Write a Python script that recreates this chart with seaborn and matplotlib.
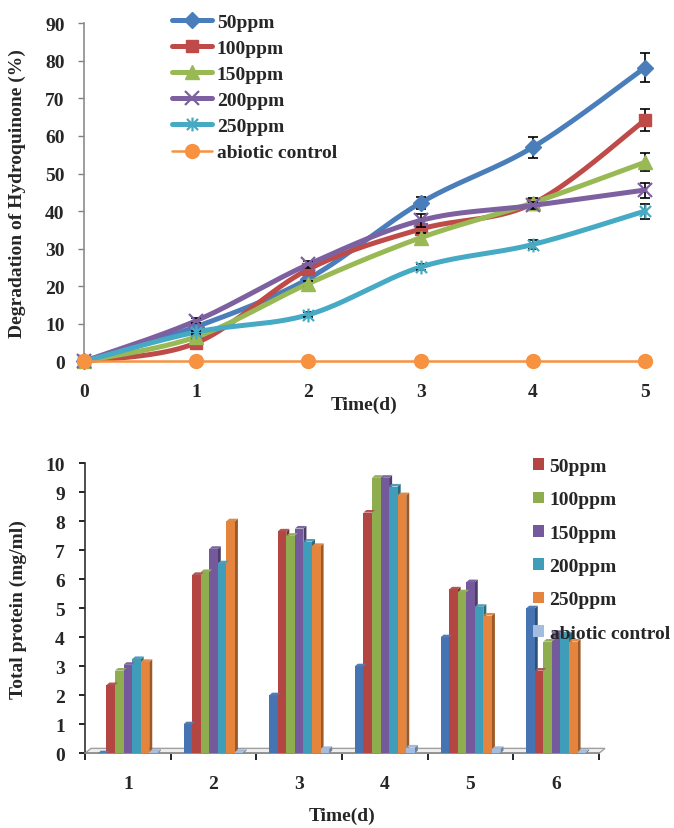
import numpy as np
import pandas as pd
import matplotlib
matplotlib.use("Agg")
import matplotlib.pyplot as plt
import seaborn as sns
from matplotlib.lines import Line2D
from matplotlib.patches import Polygon, Patch
from matplotlib.path import Path
from matplotlib.colors import to_rgb

# ---------------- data ----------------
days = [0, 1, 2, 3, 4, 5]
series = ["50ppm", "100ppm", "150ppm", "200ppm", "250ppm", "abiotic control"]

deg_50 = [0, 9.2, 22.0, 42.2, 57.0, 78.2]
deg_100 = [0, 4.9, 24.5, 35.2, 42.0, 64.2]
deg_150 = [0, 6.5, 20.7, 32.9, 42.2, 53.0]
deg_200 = [0, 10.8, 25.8, 37.5, 41.5, 45.6]
deg_250 = [0, 7.8, 12.4, 25.1, 31.1, 40.0]
deg_ctrl = [0, 0, 0, 0, 0, 0]

err_50 = [0, 0.6, 0.8, 1.6, 2.8, 3.8]
err_100 = [0, 0.5, 1.0, 1.2, 1.2, 3.0]
err_150 = [0, 0.5, 0.8, 1.2, 1.2, 2.4]
err_200 = [0, 0.6, 0.9, 1.8, 1.0, 2.0]
err_250 = [0, 0.4, 0.6, 0.8, 1.3, 2.0]
err_ctrl = [0, 0, 0, 0, 0, 0]

groups = ["1", "2", "3", "4", "5", "6"]
prot_time = [0.0, 1.0, 2.0, 3.0, 4.0, 5.0]
prot_50 = [2.35, 6.15, 7.65, 8.3, 5.65, 2.85]
prot_100 = [2.85, 6.25, 7.5, 9.5, 5.55, 3.85]
prot_150 = [3.05, 7.05, 7.75, 9.5, 5.9, 4.15]
prot_200 = [3.25, 6.55, 7.3, 9.2, 5.05, 4.1]
prot_250 = [3.15, 8.0, 7.15, 8.9, 4.75, 3.85]
prot_ctrl = [0.05, 0.05, 0.15, 0.2, 0.15, 0.05]

line_colors = ["#4A7EBB", "#BE4B48", "#98B954", "#7D60A0", "#46AAC5", "#F69240"]
bar_colors = ["#4674B3", "#B34542", "#8EAD4E", "#745A9C", "#3F9DBA", "#E5853D", "#A3BDE0"]

FS = 14

# ---------------- style ----------------
sns.set_style("ticks")
plt.rcParams["font.family"] = ["Liberation Serif", "DejaVu Serif"]
plt.rcParams["font.weight"] = "bold"
plt.rcParams["axes.labelweight"] = "bold"
plt.rcParams["font.size"] = FS

fig = plt.figure(figsize=(6.74, 8.29), dpi=100)
W, H = 674, 829


def fig_axes(left, top, right, bottom):
    return fig.add_axes([left / W, 1 - bottom / H, (right - left) / W, (bottom - top) / H])


def smooth_path(xs, ys, n=40):
    """Bezier smoothing through the points (Catmull-Rom style control points)."""
    pts = np.column_stack([xs, ys]).astype(float)
    P = np.vstack([pts[0], pts, pts[-1]])
    t = np.linspace(0, 1, n)[:, None]
    out = []
    for i in range(1, len(P) - 2):
        p0, p1, p2, p3 = P[i - 1], P[i], P[i + 1], P[i + 2]
        c1 = p1 + (p2 - p0) / 6
        c2 = p2 - (p3 - p1) / 6
        seg = (1 - t) ** 3 * p1 + 3 * (1 - t) ** 2 * t * c1 + 3 * (1 - t) * t ** 2 * c2 + t ** 3 * p2
        out.append(seg if i == 1 else seg[1:])
    return np.vstack(out)


# ---------------- top: degradation curves ----------------
ax1 = fig_axes(84, 24.3, 645, 362.3)

deg_values = [deg_50, deg_100, deg_150, deg_200, deg_250, deg_ctrl]
deg_errors = [err_50, err_100, err_150, err_200, err_250, err_ctrl]

star = Path([(-1, -1), (1, 1), (-1, 1), (1, -1), (0, -1.25), (0, 1.25)],
            [Path.MOVETO, Path.LINETO, Path.MOVETO, Path.LINETO, Path.MOVETO, Path.LINETO])
markers = ["D", "s", "^", "x", star, "o"]
msizes = [8.5, 9, 9.5, 10, 10, 10]
lwidths = [3.6, 3.6, 3.6, 3.6, 3.6, 1.8]

curves = []
for name, vals in zip(series, deg_values):
    sp = smooth_path(days, vals)
    curves.append(pd.DataFrame({"x": sp[:, 0], "y": sp[:, 1], "series": name}))
curve_df = pd.concat(curves, ignore_index=True)

for i, name in enumerate(series):
    sub = curve_df[curve_df["series"] == name]
    sns.lineplot(data=sub, x="x", y="y", sort=False, color=line_colors[i],
                 linewidth=lwidths[i], ax=ax1, clip_on=False, zorder=2 + i,
                 solid_capstyle="round")
    ax1.errorbar(days, deg_values[i], yerr=deg_errors[i], fmt="none",
                 ecolor="black", elinewidth=1.2, capsize=3.5, capthick=1.2,
                 zorder=2 + i, clip_on=False)
    ax1.plot(days, deg_values[i], linestyle="none", marker=markers[i], markersize=msizes[i],
             color=line_colors[i], markeredgecolor=line_colors[i],
             markeredgewidth=1.6 if i in (3, 4) else 1,
             clip_on=False, zorder=2.5 + i)

ax1.set_xlim(0, 5)
ax1.set_ylim(0, 90)
ax1.set_xticks(days)
ax1.set_yticks(np.arange(0, 91, 10))
ax1.tick_params(axis="x", length=0, pad=15.5, labelsize=FS)
ax1.tick_params(axis="y", length=4.5, width=1, color="#808080", pad=9.5, labelsize=FS, direction="out")
for lab in ax1.get_xticklabels() + ax1.get_yticklabels():
    lab.set_fontweight("bold")
sns.despine(ax=ax1)
ax1.spines["left"].set_color("#8C8C8C")
ax1.spines["left"].set_linewidth(1.2)
ax1.spines["bottom"].set_visible(False)
ax1.set_xlabel("Time(d)", fontsize=FS, fontweight="bold")
ax1.xaxis.set_label_coords(0.5, -0.103)
ax1.set_ylabel("Degradation of Hydroquinone (%)", fontsize=FS, fontweight="bold")
ax1.yaxis.set_label_coords(-0.103, 0.5)

handles1 = [Line2D([0], [0], color=line_colors[i], linewidth=lwidths[i], marker=markers[i],
                   markersize=msizes[i], markeredgewidth=1.6 if i in (3, 4) else 1)
            for i in range(6)]
fig.legend(handles1, series, loc="upper left", bbox_to_anchor=(172 / W, 1 - 14 / H),
           frameon=False, borderpad=0, borderaxespad=0, handlelength=2.05,
           handletextpad=0.25, labelspacing=0.44, prop={"weight": "bold", "size": FS})

# ---------------- bottom: total protein bars ----------------
ax2 = fig_axes(85, 464.3, 599, 754.3)

bar_series = ["day"] + series
bar_values = [prot_time, prot_50, prot_100, prot_150, prot_200, prot_250, prot_ctrl]
prot_df = pd.DataFrame({
    "group": np.tile(groups, len(bar_series)),
    "series": np.repeat(bar_series, len(groups)),
    "protein": np.concatenate(bar_values),
})

sns.barplot(data=prot_df, x="group", y="protein", hue="series", hue_order=bar_series,
            order=groups, palette=bar_colors, width=0.7, saturation=1, legend=False,
            edgecolor="none", linewidth=0, ax=ax2, zorder=3)

# depth faces for a 3-D column look
dx, dy = 0.035, 0.09
for p in list(ax2.patches):
    x0 = p.get_x()
    x1 = x0 + p.get_width()
    y0 = p.get_y()
    y1 = y0 + p.get_height()
    base = np.array(to_rgb(p.get_facecolor()))
    side = Polygon([(x1, y0), (x1 + dx, y0 + dy), (x1 + dx, y1 + dy), (x1, y1)],
                   closed=True, facecolor=base * 0.68, edgecolor="none", zorder=2.9)
    top = Polygon([(x0, y1), (x1, y1), (x1 + dx, y1 + dy), (x0 + dx, y1 + dy)],
                  closed=True, facecolor=np.clip(base * 0.85 + 0.1, 0, 1),
                  edgecolor="none", zorder=3.1)
    ax2.add_patch(side)
    ax2.add_patch(top)

floor = Polygon([(-0.5, 0), (5.5, 0), (5.57, 0.17), (-0.43, 0.17)], closed=True,
                facecolor="#EEEEEE", edgecolor="#A0A0A0", linewidth=1.0, zorder=1,
                clip_on=False)
ax2.add_patch(floor)

ax2.set_xlim(-0.5, 5.5)
ax2.set_ylim(0, 10)
ax2.set_yticks(np.arange(0, 11, 1))
ax2.set_xticks(range(len(groups)))
ax2.set_xticklabels(groups)
ax2.set_xticks(np.arange(-0.5, 6, 1), minor=True)
ax2.tick_params(axis="x", which="major", length=0, pad=15.5, labelsize=FS)
ax2.tick_params(axis="x", which="minor", length=5, width=1.2, color="black", direction="out")
ax2.tick_params(axis="y", length=4, width=1.2, color="black", pad=10.5, labelsize=FS, direction="out")
for lab in ax2.get_xticklabels() + ax2.get_yticklabels():
    lab.set_fontweight("bold")
sns.despine(ax=ax2)
ax2.spines["left"].set_color("#303030")
ax2.spines["left"].set_linewidth(1.2)
ax2.spines["bottom"].set_color("#8C8C8C")
ax2.spines["bottom"].set_linewidth(1.2)
ax2.set_xlabel("Time(d)", fontsize=FS, fontweight="bold")
ax2.xaxis.set_label_coords(0.5, -0.185)
ax2.set_ylabel("Total protein (mg/ml)", fontsize=FS, fontweight="bold")
ax2.yaxis.set_label_coords(-0.113, 0.5)

handles2 = [Patch(facecolor=bar_colors[i + 1], edgecolor="none") for i in range(6)]
fig.legend(handles2, series, loc="upper left", bbox_to_anchor=(533 / W, 1 - 459 / H),
           frameon=False, borderpad=0, borderaxespad=0, handlelength=0.55, handleheight=0.55,
           handletextpad=0.3, labelspacing=0.84, prop={"weight": "bold", "size": FS})

fig.savefig("out.png", dpi=100)
